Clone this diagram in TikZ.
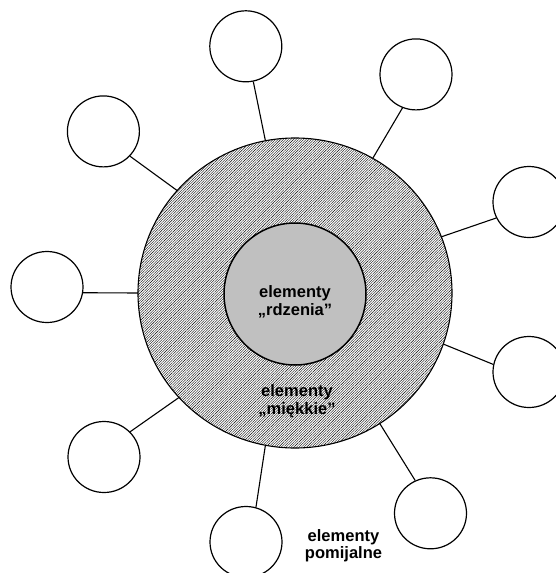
\documentclass[tikz,border=0pt]{standalone}
\usepackage{fontspec}
\setmainfont{Liberation Sans}
\usetikzlibrary{shapes.geometric,patterns.meta}
\begin{document}
\begin{tikzpicture}[x=1pt,y=-1pt,
  sat/.style={draw=black,line width=1.2pt,ellipse,minimum width=72pt,minimum height=71pt,inner sep=0pt,fill=white},
  conn/.style={draw=black,line width=1.1pt},
  lbl/.style={font=\fontsize{16.5}{17.5}\selectfont\bfseries,align=center,inner sep=0pt,anchor=base}]
\clip (0,0) rectangle (556,573);
\node[ellipse, minimum width=314pt, minimum height=310pt, inner sep=0pt, draw=black, line width=1.1pt,
      pattern={Lines[angle=45,distance=1.8pt,line width=0.38pt]}] (soft) at (295,293) {};
\node[circle, minimum size=142pt, inner sep=0pt, draw=black, line width=1.5pt,
      fill={rgb,255:red,192;green,192;blue,192}] (core) at (295,294) {};
\node[sat] (s1) at (245.8,46.3) {};
\node[sat] (s2) at (416,74.4) {};
\node[sat] (s3) at (529,202) {};
\node[sat] (s4) at (529,372) {};
\node[sat] (s5) at (430.5,513.3) {};
\node[sat] (s6) at (246,542) {};
\node[sat] (s7) at (104,457) {};
\node[sat] (s8) at (47,287) {};
\node[sat] (s9) at (103.4,131.4) {};
\draw[conn] (soft.101) -- (s1.-78);
\draw[conn] (soft.60.4) -- (s2.-112.4);
\draw[conn] (soft.21.5) -- (s3.206.3);
\draw[conn] (soft.-19.4) -- (s4.168.3);
\draw[conn] (soft.-57.5) -- (s5.115.9);
\draw[conn] (soft.-101.3) -- (s6.74.1);
\draw[conn] (soft.-138.9) -- (s7.44.7);
\draw[conn] (soft.180) -- (s8.-9.5);
\draw[conn] (soft.139.4) -- (s9.-43.1);
\node[lbl] (tcore) at (295,315) {elementy\\„rdzenia”};
\node[lbl] (tsoft) at (297,414) {elementy\\„miękkie”};
\node[lbl] (tneg) at (343.5,558.5) {elementy\\pomijalne};
\end{tikzpicture}
\end{document}
